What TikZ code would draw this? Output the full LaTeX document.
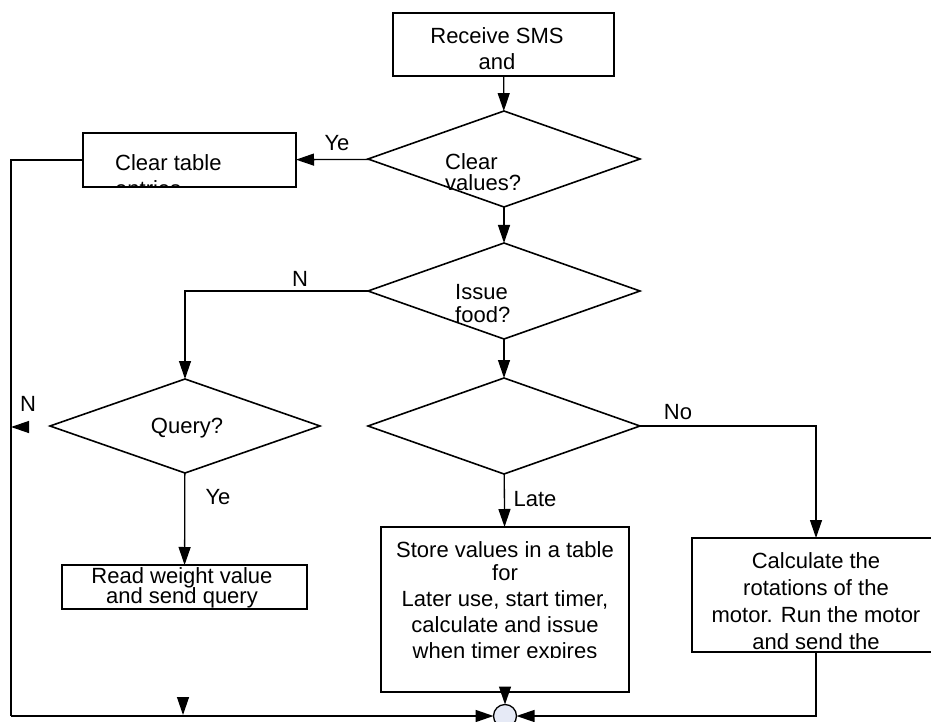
\documentclass[tikz,border=0pt]{standalone}
\usepackage{fontspec}
\setmainfont{Liberation Sans}
\usetikzlibrary{
    arrows.meta,
    shapes.geometric,
    positioning
}
\definecolor{junction}{RGB}{230,234,246}

\begin{document}
\begin{tikzpicture}[x=1pt, y=-1pt,
    box/.style={draw, line width=1.6pt, rectangle, inner sep=0pt, outer sep=0pt},
    decision/.style={draw, line width=1.6pt, diamond, minimum width=272pt,
        minimum height=96pt, inner sep=0pt, outer sep=0pt},
    txt/.style={font=\fontsize{22}{26}\selectfont, inner sep=0pt, align=center},
    lbl/.style={font=\fontsize{22}{26}\selectfont, inner sep=0pt},
    link/.style={line width=1.3pt},
    flow/.style={line width=1.3pt, -{Triangle[length=18pt,width=12pt]}}]

    % Frame
    \clip (0,0) rectangle (931,722);
    \useasboundingbox (0,0) rectangle (931,722);

    % Boxes
    \node[box, minimum width=221pt, minimum height=63pt] (recv) at (503.5,44.5) {};
    \node[box, minimum width=213pt, minimum height=54pt] (clr) at (189.5,160) {};
    \node[box, minimum width=245pt, minimum height=44pt] (read) at (184.5,587) {};
    \node[box, minimum width=248pt, minimum height=165pt] (store) at (505,609.5) {};
    \node[box, minimum width=248pt, minimum height=114pt] (calc) at (816,595) {};

    % Decisions
    \node[decision] (dclear) at (504,159) {};
    \node[decision] (dissue) at (504,291) {};
    \node[decision, minimum width=270pt, minimum height=94pt] (dquery) at (185,426) {};
    \node[decision] (dlate) at (504,426) {};

    % Junction
    \node[draw, line width=1.3pt, circle, fill=junction, minimum size=23pt,
        inner sep=0pt, outer sep=0pt] (junc) at (505,716) {};

    % Texts
    \node[txt, anchor=north] (recv-t) at (497,27) {Receive SMS\\and};
    \node[txt, align=left, anchor=north west] (dclear-t) at (445,153) {Clear\\[-5pt]values?};
    \node[txt, align=left, anchor=north west] (dissue-t) at (455,284) {Issue\\[-3pt]food?};
    \node[txt, anchor=north] (read-t) at (182,567) {Read weight value\\[-6pt]and send query};
    \node[txt, anchor=north] (calc-t) at (816,552) {Calculate the\\[1pt]rotations of the\\[1pt]motor. Run the motor\\[1pt]and send the};
    \begin{scope}
        \clip (clr.south west) rectangle (clr.north east);
        \node[txt, align=left, anchor=north west] (clr-t) at (115,154) {Clear table\\entries};
    \end{scope}
    \begin{scope}
        \clip (381,527) rectangle (629,657);
        \node[txt, anchor=north] (store-t) at (505,541) {Store values in a table\\[-3pt]for\\Later use, start timer,\\calculate and issue\\when timer expires};
    \end{scope}
    \begin{scope}
        \clip (100,400) rectangle (280,437);
        \node[txt, anchor=north] (dquery-t) at (187,418) {Query?};
    \end{scope}

    % Connectors
    \draw[flow] (recv) -- (dclear);
    \draw[flow] (dclear) -- (clr);
    \draw[flow] (dclear) -- (dissue);
    \draw[flow] (dissue.west) -| (dquery.north);
    \draw[flow] (dissue) -- (dlate);
    \draw[flow] (dlate.east) -| (calc.north);
    \draw[flow] (dlate) -- (store);
    \draw[flow] (dquery) -- (read);
    \draw[flow] (store) -- (junc);
    \draw[flow] (calc.south) |- (junc.east);
    \coordinate (loop) at (11,716);
    \draw[link, line width=1.6pt] (clr.west) -| (loop);
    \draw[flow, line width=1.6pt] (loop) -- (junc.west);

    % Loose arrow heads
    \coordinate (qtip) at (28,427);
    \coordinate (btip) at (183,697);
    \draw[flow] (qtip) -- ++(-17,0);
    \draw[flow] (btip) -- ++(0,18);

    % Branch labels
    \node[lbl] (ye1) at (337,143) {Ye};
    \node[lbl] (n1) at (300,279) {N};
    \node[lbl] (n2) at (28,404) {N};
    \node[lbl] (no) at (678,412) {No};
    \node[lbl] (late) at (535,499) {Late};
    \node[lbl] (ye2) at (218,497) {Ye};
\end{tikzpicture}
\end{document}
